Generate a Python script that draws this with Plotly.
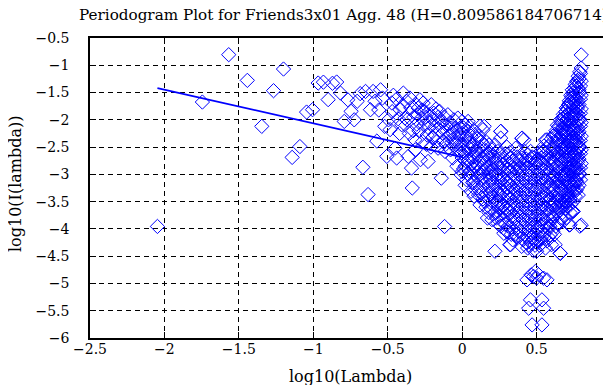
import plotly.graph_objects as go

# ---- data ----
# low-frequency (sparse) periodogram points: (log10 lambda, log10 I)
low_pts = [
    (-2.047, -3.955), (-1.745, -1.674), (-1.568, -0.806), (-1.443, -1.277),
    (-1.346, -2.120), (-1.267, -1.466), (-1.200, -1.069), (-1.142, -2.689),
    (-1.090, -2.490), (-1.045, -1.858), (-1.005, -1.815), (-0.967, -1.326),
    (-0.932, -1.310), (-0.900, -1.630), (-0.871, -1.330), (-0.843, -1.307),
    (-0.817, -1.510), (-0.792, -2.030), (-0.768, -1.632), (-0.746, -1.845),
    (-0.725, -2.000), (-0.705, -1.660), (-0.685, -1.520), (-0.667, -2.870),
    (-0.649, -1.480), (-0.632, -3.370), (-0.616, -1.815),
]

# mid-frequency points
mid_pts = [
    (-0.598, -1.48), (-0.585, -1.66), (-0.573, -2.39), (-0.560, -1.82),
    (-0.548, -1.45), (-0.535, -1.60), (-0.520, -2.12), (-0.506, -2.67),
    (-0.495, -2.00), (-0.484, -2.18), (-0.473, -1.69), (-0.462, -1.55),
    (-0.451, -2.52), (-0.440, -2.70), (-0.430, -1.98), (-0.417, -1.815),
    (-0.406, -2.09), (-0.395, -1.51), (-0.384, -1.968), (-0.373, -1.66),
    (-0.362, -2.67), (-0.351, -1.60), (-0.340, -2.885), (-0.335, -3.25),
    (-0.329, -2.20), (-0.318, -2.365), (-0.310, -1.72), (-0.300, -1.90),
    (-0.295, -1.785), (-0.284, -1.632), (-0.280, -2.73), (-0.273, -1.968),
    (-0.262, -1.693), (-0.255, -2.10), (-0.251, -1.846), (-0.240, -2.45),
    (-0.229, -2.763), (-0.225, -2.15), (-0.215, -1.90), (-0.207, -1.723),
    (-0.200, -2.33), (-0.196, -2.00), (-0.184, -2.274), (-0.175, -1.80),
    (-0.162, -2.52), (-0.160, -1.95), (-0.151, -1.846), (-0.145, -2.20),
    (-0.140, -3.07), (-0.135, -2.03), (-0.125, -2.40), (-0.118, -3.956),
    (-0.115, -2.58), (-0.105, -2.10), (-0.096, -1.907), (-0.090, -2.30),
    (-0.085, -2.274), (-0.078, -2.55), (-0.073, -2.15), (-0.063, -2.70),
    (-0.055, -2.00), (-0.050, -2.40), (-0.040, -2.457), (-0.035, -2.85),
    (-0.029, -1.968), (-0.020, -2.60), (-0.018, -2.274), (-0.010, -2.15),
    (-0.007, -3.008),
    (-0.470, -1.85), (-0.440, -1.62), (-0.420, -2.25), (-0.400, -1.75),
    (-0.370, -2.00), (-0.355, -2.25), (-0.345, -1.78), (-0.325, -1.95),
    (-0.315, -2.55), (-0.305, -2.08), (-0.290, -2.20), (-0.270, -1.82),
    (-0.265, -2.40), (-0.245, -1.95), (-0.235, -2.28), (-0.220, -2.05),
    (-0.210, -2.50), (-0.190, -1.88), (-0.180, -2.12), (-0.170, -2.40),
    (-0.155, -2.05), (-0.130, -2.25), (-0.120, -1.95), (-0.110, -2.45),
    (-0.100, -2.20), (-0.080, -2.05), (-0.070, -2.42), (-0.060, -2.25),
    (-0.045, -2.15), (-0.030, -2.35), (-0.025, -2.55), (-0.015, -2.45),
    (-0.005, -2.60),
]

# high-frequency dense region: column positions and the values in each column
arm_x = [0.00, 0.02, 0.04, 0.06, 0.08, 0.10, 0.12, 0.14, 0.16, 0.17, 0.18,
         0.20, 0.22, 0.24, 0.26, 0.28, 0.30, 0.32, 0.34, 0.36, 0.38, 0.40,
         0.42, 0.44, 0.46, 0.48, 0.50, 0.52, 0.54, 0.56, 0.58, 0.60, 0.62,
         0.64, 0.66, 0.67, 0.68, 0.69, 0.70, 0.71, 0.72, 0.73, 0.74, 0.75,
         0.76, 0.77, 0.78, 0.79, 0.80]
arm_y = [
    [-2.03, -2.25, -2.45, -2.70, -2.95],
    [-2.10, -2.35, -2.60, -2.85, -3.20],
    [-2.03, -2.21, -2.49, -2.75, -3.00],
    [-2.30, -2.55, -2.80, -3.05, -3.31],
    [-2.20, -2.45, -2.68, -2.90, -3.15, -3.40],
    [-2.35, -2.58, -2.80, -3.05, -3.25],
    [-2.12, -2.50, -2.76, -3.00, -3.25, -3.56],
    [-2.18, -2.45, -2.70, -2.95, -3.20, -3.45],
    [-2.40, -2.64, -2.88, -3.10, -3.35, -3.60],
    [-2.64, -3.80],
    [-2.46, -2.70, -2.95, -3.20, -3.45, -3.70],
    [-2.55, -2.80, -3.05, -3.30, -3.55, -3.83],
    [-2.46, -2.70, -2.95, -3.20, -3.45, -3.70, -4.41],
    [-2.58, -2.85, -3.10, -3.35, -3.60, -3.90],
    [-2.21, -2.60, -2.88, -3.12, -3.38, -3.62, -3.95],
    [-2.70, -2.95, -3.20, -3.45, -3.70, -4.08],
    [-2.50, -2.76, -3.00, -3.25, -3.50, -3.75, -4.05],
    [-2.60, -2.85, -3.10, -3.35, -3.60, -3.85, -4.29],
    [-2.76, -3.00, -3.25, -3.50, -3.75, -4.00, -4.20],
    [-2.52, -2.80, -3.05, -3.30, -3.55, -3.80, -4.10],
    [-2.60, -2.88, -3.15, -3.40, -3.65, -3.90, -4.15],
    [-2.34, -2.70, -2.95, -3.20, -3.45, -3.70, -3.95, -4.32],
    [-2.58, -2.85, -3.10, -3.35, -3.60, -3.85, -4.11],
    [-2.65, -2.90, -3.15, -3.40, -3.65, -3.90, -4.15, -4.35],
    [-2.58, -2.80, -3.05, -3.30, -3.55, -3.80, -4.05, -4.25],
    [-2.70, -2.95, -3.20, -3.45, -3.70, -3.95, -4.20, -4.40],
    [-2.79, -3.00, -3.25, -3.50, -3.75, -4.00, -4.25, -4.41],
    [-2.60, -2.85, -3.10, -3.35, -3.60, -3.85, -4.10, -4.30],
    [-2.58, -2.80, -3.05, -3.30, -3.55, -3.80, -4.05, -4.25],
    [-2.37, -2.70, -2.95, -3.20, -3.45, -3.70, -3.95, -4.35],
    [-2.50, -2.75, -3.00, -3.25, -3.50, -3.75, -4.00, -4.15],
    [-2.35, -2.60, -2.85, -3.10, -3.35, -3.60, -3.85, -4.29],
    [-2.27, -2.50, -2.75, -3.00, -3.25, -3.50, -3.75, -4.10],
    [-2.10, -2.35, -2.60, -2.85, -3.10, -3.35, -3.60, -3.90],
    [-2.00, -2.25, -2.50, -2.75, -3.00, -3.25, -3.50, -3.80, -4.45],
    [-2.15, -2.62, -3.12, -3.60],
    [-1.90, -2.15, -2.40, -2.65, -2.90, -3.15, -3.40, -3.86],
    [-2.05, -2.52, -3.02, -3.50],
    [-1.78, -2.00, -2.25, -2.50, -2.75, -3.00, -3.25, -3.50, -3.80],
    [-1.90, -2.38, -2.88, -3.38],
    [-1.65, -1.90, -2.15, -2.40, -2.65, -2.90, -3.15, -3.40, -3.93],
    [-1.55, -2.02, -2.52, -3.02, -3.55],
    [-1.45, -1.70, -1.95, -2.20, -2.45, -2.70, -2.95, -3.20, -3.68],
    [-1.57, -1.82, -2.32, -2.82, -3.30],
    [-1.35, -1.60, -1.85, -2.10, -2.35, -2.60, -2.85, -3.10, -3.40],
    [-1.30, -1.75, -2.25, -2.75, -3.13],
    [-1.20, -1.42, -1.65, -1.90, -2.15, -2.40, -2.65, -2.90, -3.38],
    [-1.12, -1.50, -2.00, -2.50, -3.00, -3.95],
    [-0.81, -1.05, -1.29, -1.55, -1.80, -2.05, -2.30, -2.55, -2.80, -3.93],
]

# staggered second set of columns in the dense region
arm2_x = [0.01, 0.03, 0.05, 0.07, 0.09, 0.11, 0.13, 0.15, 0.19, 0.21, 0.23,
          0.25, 0.27, 0.29, 0.31, 0.33, 0.35, 0.37, 0.39, 0.41, 0.43, 0.45,
          0.47, 0.49, 0.51, 0.53, 0.55, 0.57, 0.59, 0.61, 0.63, 0.65, 0.665,
          0.675, 0.685, 0.695, 0.705, 0.715, 0.725, 0.735, 0.745, 0.755,
          0.765, 0.775, 0.785, 0.795]
arm2_y = [
    [-2.15, -2.58, -2.90],
    [-2.30, -2.70, -3.10],
    [-2.12, -2.42, -2.95],
    [-2.45, -2.70, -3.15],
    [-2.55, -2.85, -3.28],
    [-2.30, -2.65, -2.95, -3.38],
    [-2.40, -2.88, -3.10, -3.35],
    [-2.55, -2.80, -3.05, -3.50],
    [-2.60, -2.85, -3.10, -3.35, -3.62],
    [-2.68, -2.92, -3.18, -3.42, -3.72],
    [-2.78, -3.02, -3.28, -3.52, -3.80],
    [-2.72, -2.98, -3.22, -3.48, -3.75],
    [-2.82, -3.08, -3.32, -3.58, -3.85],
    [-2.62, -2.88, -3.12, -3.38, -3.62, -3.92],
    [-2.90, -3.15, -3.40, -3.65, -3.95],
    [-2.70, -2.95, -3.20, -3.45, -3.70, -4.10],
    [-2.88, -3.12, -3.38, -3.62, -3.88],
    [-2.68, -2.92, -3.18, -3.42, -3.68, -3.98],
    [-2.75, -3.02, -3.28, -3.52, -3.78, -4.05],
    [-2.82, -3.08, -3.32, -3.58, -3.82, -4.20],
    [-2.72, -2.98, -3.22, -3.48, -3.72, -3.98, -4.25],
    [-2.75, -3.02, -3.28, -3.52, -3.78, -4.02, -4.30],
    [-2.68, -2.92, -3.18, -3.42, -3.68, -3.92, -4.15],
    [-2.82, -3.08, -3.32, -3.58, -3.82, -4.08, -4.30],
    [-2.72, -2.98, -3.22, -3.48, -3.72, -3.98, -4.20],
    [-2.70, -2.95, -3.20, -3.45, -3.70, -3.95, -4.18],
    [-2.48, -2.82, -3.08, -3.32, -3.58, -3.82, -4.10],
    [-2.60, -2.88, -3.12, -3.38, -3.62, -3.88, -4.22],
    [-2.45, -2.70, -2.95, -3.20, -3.45, -3.70, -3.95],
    [-2.30, -2.55, -2.80, -3.05, -3.30, -3.55, -3.80, -4.05],
    [-2.20, -2.42, -2.68, -2.92, -3.18, -3.42, -3.68, -3.95],
    [-2.12, -2.38, -2.62, -2.88, -3.12, -3.38, -3.62, -3.90],
    [-2.05, -2.30, -2.55, -2.80, -3.05, -3.30, -3.55],
    [-1.98, -2.28, -2.52, -2.78, -3.02, -3.28, -3.52, -3.70],
    [-1.95, -2.22, -2.48, -2.72, -2.98, -3.22, -3.48],
    [-1.85, -2.12, -2.38, -2.62, -2.88, -3.12, -3.38, -3.62],
    [-1.80, -2.08, -2.32, -2.58, -2.82, -3.08, -3.32, -3.58],
    [-1.72, -1.98, -2.22, -2.48, -2.72, -2.98, -3.22, -3.48],
    [-1.68, -1.95, -2.20, -2.45, -2.70, -2.95, -3.20, -3.45, -3.70],
    [-1.58, -1.82, -2.08, -2.32, -2.58, -2.82, -3.08, -3.32],
    [-1.50, -1.75, -2.00, -2.25, -2.50, -2.75, -3.00, -3.25, -3.50],
    [-1.42, -1.68, -1.92, -2.18, -2.42, -2.68, -2.92, -3.18],
    [-1.38, -1.62, -1.88, -2.12, -2.38, -2.62, -2.88, -3.12, -3.30],
    [-1.28, -1.52, -1.78, -2.02, -2.28, -2.52, -2.78, -3.02, -3.25],
    [-1.25, -1.45, -1.72, -1.98, -2.22, -2.48, -2.72, -2.98, -3.20],
    [-1.15, -1.38, -1.62, -1.88, -2.12, -2.38, -2.62, -2.88, -3.10],
]

# scattered outliers inside the V and the low cluster near log10(pi)
extra_pts = [
    (0.148, -2.12), (0.259, -2.213), (0.259, -2.335), (0.403, -2.335),
    (0.414, -2.365), (0.569, -2.365), (0.636, -2.274), (0.503, -2.794),
    (0.547, -2.58), (0.325, -4.29), (0.303, -4.05), (0.592, -4.11),
    (0.658, -4.445), (0.625, -4.29), (0.725, -3.925), (0.747, -3.68),
    (0.436, -4.934), (0.463, -4.842), (0.492, -4.781), (0.514, -4.842),
    (0.547, -4.903), (0.570, -4.934), (0.480, -4.870), (0.500, -4.900),
    (0.459, -5.301), (0.536, -5.301), (0.447, -5.454), (0.547, -5.454),
    (0.470, -5.760), (0.536, -5.760),
]

# least-squares fit line (slope = 1 - 2H)
fit_x = [-2.047, 0.0]
fit_y = [-1.417, -2.685]

x_ticks = [-2.5, -2, -1.5, -1, -0.5, 0, 0.5, 1]
y_ticks = [-6, -5.5, -5, -4.5, -4, -3.5, -3, -2.5, -2, -1.5, -1, -0.5]

title_text = "Periodogram Plot for Friends3x01 Agg. 48 (H=0.809586184706714)"
x_label = "log10(Lambda)"
y_label = "log10(I(lambda))"

# ---- assemble ----
xs, ys = [], []
for p in low_pts + mid_pts:
    xs.append(p[0]); ys.append(p[1])
for cols_x, cols_y in ((arm_x, arm_y), (arm2_x, arm2_y)):
    for cx, col in zip(cols_x, cols_y):
        for v in col:
            xs.append(cx); ys.append(v)
for p in extra_pts:
    xs.append(p[0]); ys.append(p[1])

BLUE = "#0000ff"
FONT = "DejaVu Serif"

fig = go.Figure()
fig.add_trace(go.Scatter(
    x=xs, y=ys, mode="markers",
    marker=dict(symbol="diamond-open", size=11, color=BLUE,
                line=dict(width=1, color=BLUE)),
    hoverinfo="skip"))
fig.add_trace(go.Scatter(
    x=fit_x, y=fit_y, mode="lines",
    line=dict(color=BLUE, width=1.8), hoverinfo="skip"))

axis_common = dict(
    showgrid=True, gridcolor="black", gridwidth=1, griddash="5px,4px",
    showline=True, linecolor="black", linewidth=1.5, mirror="ticks",
    ticks="inside", ticklen=6, tickcolor="black", tickwidth=1,
    zeroline=False, tickfont=dict(family=FONT, size=14, color="black"),
)

fig.update_layout(
    width=611, height=385,
    margin=dict(l=82, r=4, t=30, b=55),
    paper_bgcolor="white", plot_bgcolor="white",
    showlegend=False,
    xaxis=dict(range=[-2.5, 1], tickvals=x_ticks, ticklabelstandoff=-3,
               **axis_common),
    yaxis=dict(range=[-6, -0.5], tickvals=y_ticks, ticklabelstandoff=16,
               **axis_common),
    annotations=[
        dict(text=title_text, xref="paper", yref="paper", x=0, y=1,
             xanchor="left", yanchor="bottom", xshift=-13, yshift=12,
             showarrow=False, font=dict(family=FONT, size=15.2, color="black")),
        dict(text=x_label, xref="paper", yref="paper", x=0.5, y=0,
             xanchor="center", yanchor="top", yshift=-27,
             showarrow=False, font=dict(family=FONT, size=16, color="black")),
        dict(text=y_label, xref="paper", yref="paper", x=0, y=0.5,
             xanchor="center", yanchor="middle", xshift=-75, yshift=4,
             textangle=-90,
             showarrow=False, font=dict(family=FONT, size=16, color="black")),
    ],
)

fig.write_html("out.html")
